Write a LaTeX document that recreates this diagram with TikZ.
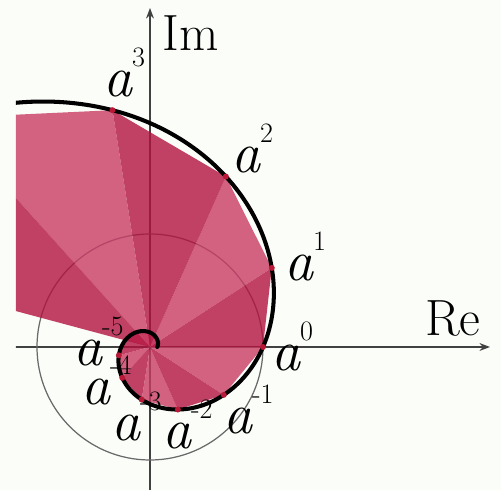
\documentclass[tikz,border=0pt]{standalone}
\usepackage{fontspec}
\usetikzlibrary{arrows.meta}
\definecolor{bgcol}{RGB}{251,253,249}
\definecolor{wdark}{RGB}{178,18,62}
\definecolor{wlight}{RGB}{201,60,100}
\definecolor{axisgray}{RGB}{65,65,65}
\definecolor{circgray}{RGB}{105,105,105}
\definecolor{dotred}{RGB}{185,25,55}
\newcommand\pw[1]{a\kern-0.5pt\raisebox{17.5pt}{\fontsize{16}{18}\selectfont\upshape #1}}
\begin{document}
\begin{tikzpicture}[x=0.02cm,y=0.02cm,
  powlab/.style={inner sep=0pt, outer sep=0pt, anchor=base west, font=\fontsize{33}{36}\selectfont\itshape},
  axislab/.style={inner sep=0pt, outer sep=0pt, font=\fontsize{29}{32}\selectfont},
  axisline/.style={draw=axisgray, line width=0.85pt, -{Stealth[length=6pt,width=4.5pt]}},
  ptdot/.style={circle, fill=dotred, inner sep=0pt, minimum size=6*0.02cm},
  spiralline/.style={line width=2.3pt, line cap=round, black}]
\useasboundingbox (-150,-143) rectangle (351,347);
\fill[bgcol] (-150,-143) rectangle (351,347);
\coordinate (O) at (0,0);
\coordinate (xs) at (-140,0);
\coordinate (xe) at (340,0);
\coordinate (ys) at (0,-150);
\coordinate (ye) at (0,339);
\begin{scope}
  \clip (-134,-143) rectangle (351,347);
  \draw[axisline] (xs) -- (xe);
  \draw[axisline] (ys) -- (ye);
  \draw[circgray, line width=0.7pt] (O) circle (113);
  \foreach \n in {-11,...,4}{
    \pgfmathsetmacro\ra{113*exp(0.25077*\n)}
    \pgfmathsetmacro\rb{113*exp(0.25077*(\n+1))}
    \ifodd\n \def\wc{wlight}\else\def\wc{wdark}\fi
    \fill[\wc, fill opacity=0.8] (O) -- ({33*\n}:\ra) -- ({33*(\n+1)}:\rb) -- cycle;
  }
  \draw[spiralline] plot[domain=-360:150, samples=300, smooth] (\x:{113*exp(0.0075991*\x)});
  \foreach \n in {-5,...,4}{
    \pgfmathsetmacro\ra{113*exp(0.25077*\n)}
    \node[ptdot] (p\n) at ({33*\n}:\ra) {};
  }
\end{scope}
% axis labels
\node[axislab] (im) at (41,313.5) {Im};
\node[axislab] (re) at (303,28) {Re};
% power labels (base west = left end of the baseline of a)
\node[powlab] (l3)  at (-46,250) {\pw{3}};
\node[powlab] (l2)  at (82,174)  {\pw{2}};
\node[powlab] (l1)  at (135,66)  {\pw{1}};
\node[powlab] (l0)  at (122,-24) {\pw{0}};
\node[powlab] (lm1) at (74,-87)  {\pw{-1}};
\node[powlab] (lm2) at (13,-102) {\pw{-2}};
\node[powlab] (lm3) at (-38,-94) {\pw{-3}};
\node[powlab] (lm4) at (-68,-58) {\pw{-4}};
\node[powlab] (lm5) at (-76,-19) {\pw{-5}};
\end{tikzpicture}
\end{document}
